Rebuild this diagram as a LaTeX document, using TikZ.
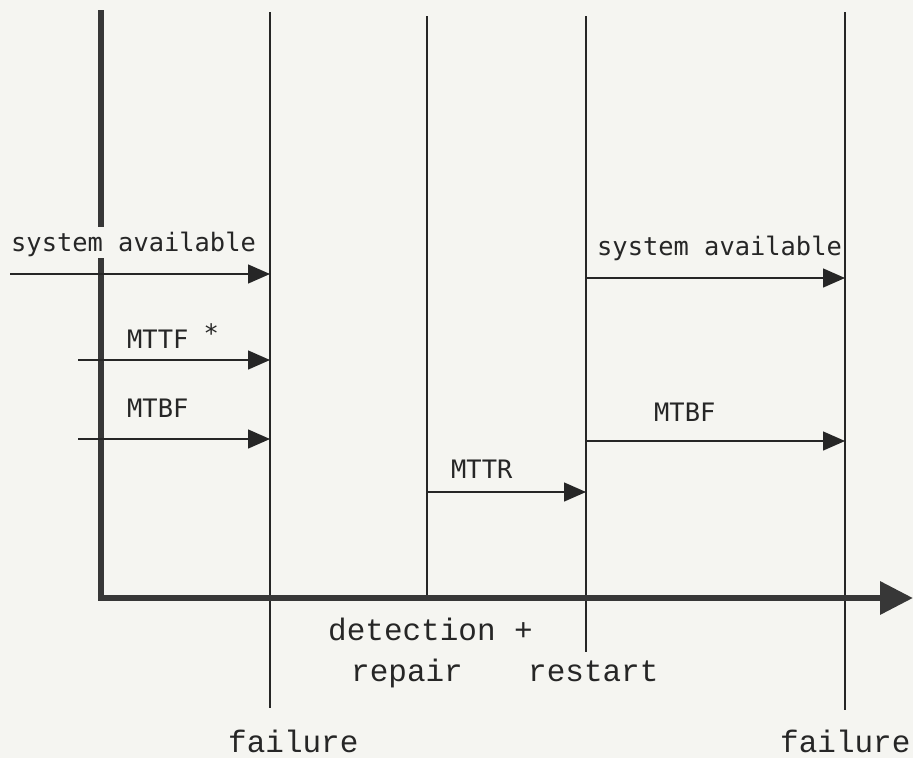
\documentclass[tikz,border=0pt]{standalone}
\usepackage{fontspec}
\newfontfamily\upfont{DejaVu Sans Mono}
\newfontfamily\lowfont{Liberation Mono}
\usetikzlibrary{arrows.meta}
\definecolor{ink}{HTML}{262626}
\definecolor{paper}{HTML}{F5F5F1}
\begin{document}
\begin{tikzpicture}[x=1pt,y=-1pt,
  vline/.style={draw=ink,line width=1.4pt},
  axisline/.style={draw=ink!92,line width=6.5pt,line join=miter,-{Triangle[length=33pt,width=32pt]}},
  axisseg/.style={draw=ink!92,line width=6.5pt},
  timearrow/.style={draw=ink,line width=1.4pt,-{Triangle[length=22pt,width=19pt]}},
  uplabel/.style={font=\upfont\fontsize{25.4}{26}\selectfont,text=ink,inner sep=0pt,anchor=base west},
  lowlabel/.style={font=\lowfont\fontsize{31}{32}\selectfont,text=ink,inner sep=0pt,anchor=base west}]
\fill[paper] (0,0) rectangle (913,758);
\useasboundingbox (0,0) rectangle (913,758);

% axis points
\coordinate (axtop) at (101,10);
\coordinate (axgapA) at (101,227);
\coordinate (axgapB) at (101,258);
\coordinate (origin) at (101,598);
\coordinate (axend) at (913,598);

% event lines
\coordinate (fail1top) at (270,12);
\coordinate (fail1bot) at (270,708);
\coordinate (dettop) at (427,16);
\coordinate (detbot) at (427,598);
\coordinate (restop) at (586,16);
\coordinate (resbot) at (586,652);
\coordinate (fail2top) at (845,12);
\coordinate (fail2bot) at (845,710);

\draw[vline] (fail1top) -- (fail1bot);
\draw[vline] (dettop) -- (detbot);
\draw[vline] (restop) -- (resbot);
\draw[vline] (fail2top) -- (fail2bot);

% axes
\draw[axisseg] (axtop) -- (axgapA);
\draw[axisline] (axgapB) -- (origin) -- (axend);

% arrow start/end points
\coordinate (sysLs) at (10,274);
\coordinate (sysLe) at (270,274);
\coordinate (mttfs) at (78,360);
\coordinate (mttfe) at (270,360);
\coordinate (mtbfLs) at (78,439);
\coordinate (mtbfLe) at (270,439);
\coordinate (mttrs) at (427,492);
\coordinate (mttre) at (586,492);
\coordinate (sysRs) at (586,278);
\coordinate (sysRe) at (845,278);
\coordinate (mtbfRs) at (586,441);
\coordinate (mtbfRe) at (845,441);

\draw[timearrow] (sysLs) -- (sysLe);
\draw[timearrow] (mttfs) -- (mttfe);
\draw[timearrow] (mtbfLs) -- (mtbfLe);
\draw[timearrow] (mttrs) -- (mttre);
\draw[timearrow] (sysRs) -- (sysRe);
\draw[timearrow] (mtbfRs) -- (mtbfRe);

% labels
\node[uplabel] (sysL) at (11,251) {system available};
\node[uplabel] (sysR) at (597,255) {system available};
\node[uplabel] (mttf) at (127,348) {MTTF \raisebox{6pt}{*}};
\node[uplabel] (mtbfL) at (127,417) {MTBF};
\node[uplabel] (mtbfR) at (654,421) {MTBF};
\node[uplabel] (mttr) at (451,478) {MTTR};

\node[lowlabel] (det) at (328,640) {detection +};
\node[lowlabel] (rep) at (351,681) {repair};
\node[lowlabel] (rst) at (528,681) {restart};
\node[lowlabel] (f1) at (228,752) {failure};
\node[lowlabel] (f2) at (780,752) {failure};
\end{tikzpicture}
\end{document}
